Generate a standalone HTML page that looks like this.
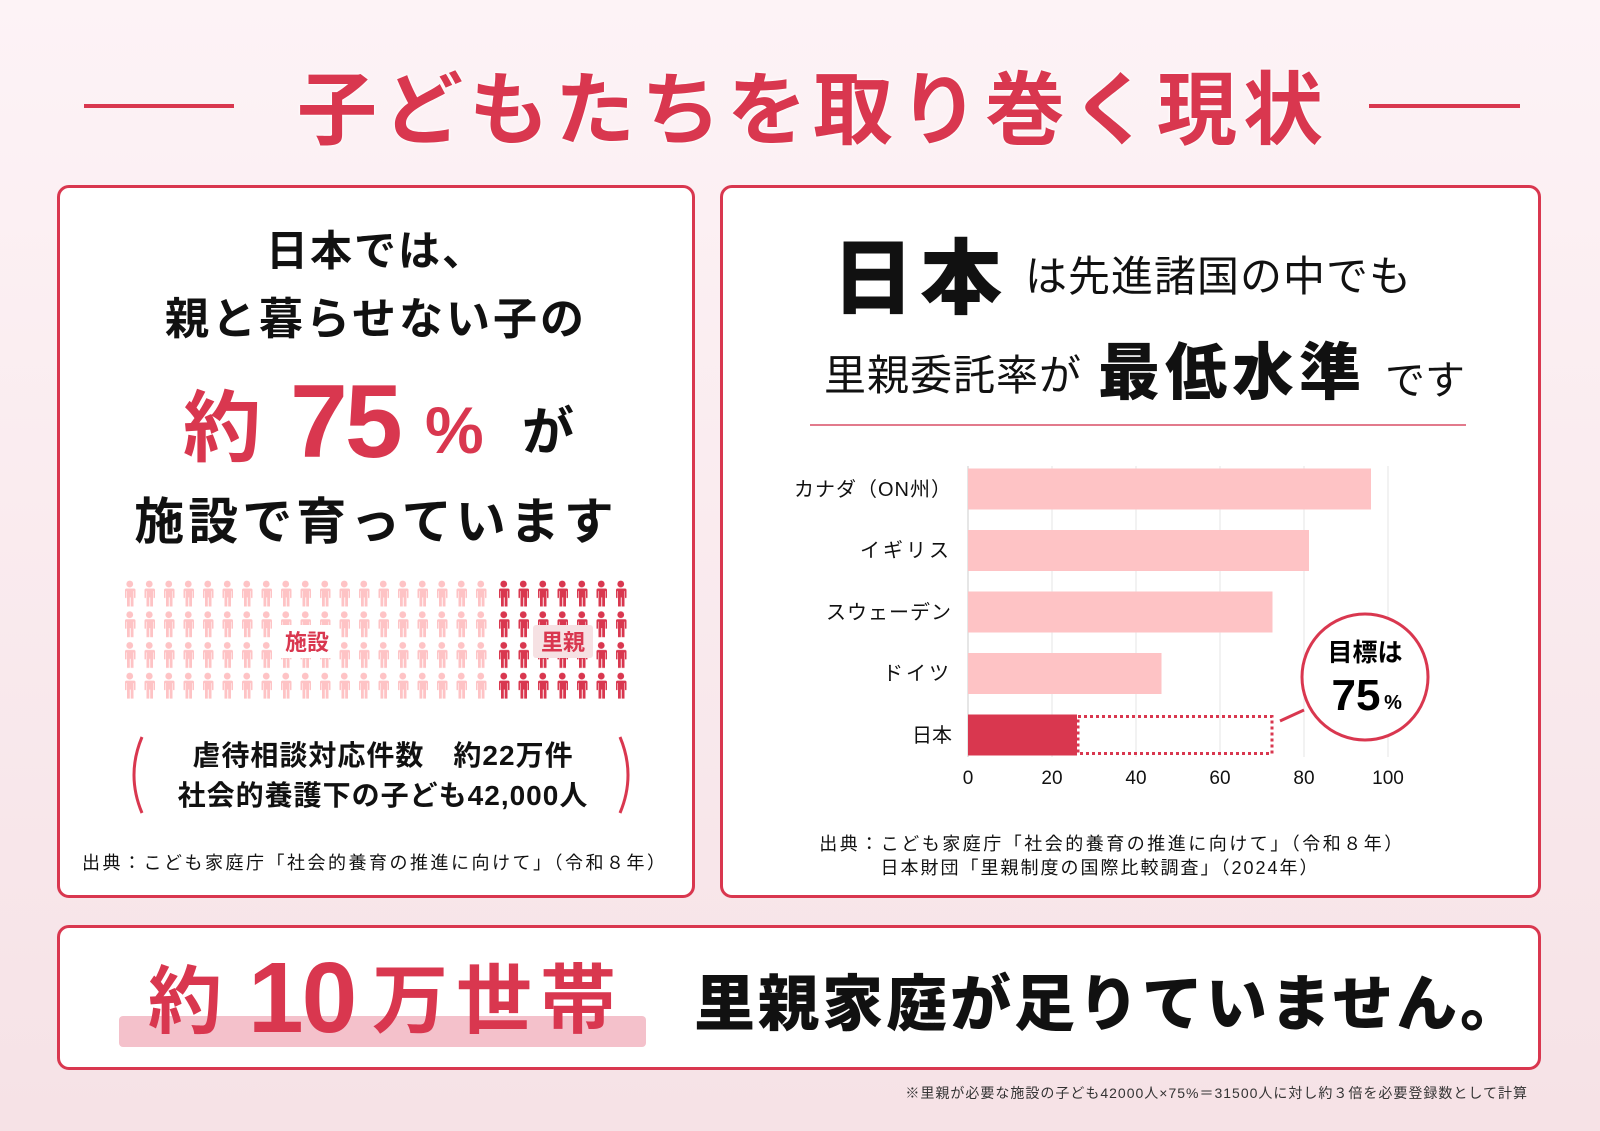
<!DOCTYPE html>
<html><head><meta charset="utf-8">
<style>
*{margin:0;padding:0;box-sizing:border-box}
body{width:1600px;height:1131px;overflow:hidden;position:relative;background:linear-gradient(#fdf3f6,#f6e2e6);font-family:"Liberation Sans","Noto Sans CJK JP",sans-serif;color:#111}
.a{position:absolute;white-space:nowrap}
.c{transform:translate(-50%,-50%)}
.r{color:#d9374f}
.panel{position:absolute;background:#fff;border:3px solid #d9374f;border-radius:12px}
.b{font-weight:700}
</style></head><body>
<div class="a" style="left:84px;top:104px;width:150px;height:4px;background:#d9374f"></div>
<div class="a" style="left:1369px;top:104px;width:151px;height:4px;background:#d9374f"></div>
<div class="a c r b" style="left:813px;top:104px;font-size:80px;letter-spacing:6px;text-shadow:0 0 3px #fff,0 0 3px #fff">子どもたちを取り巻く現状</div>

<div class="panel" style="left:57px;top:185px;width:638px;height:713px"></div>
<div class="panel" style="left:720px;top:185px;width:821px;height:713px"></div>
<div class="panel" style="left:57px;top:925px;width:1484px;height:145px"></div>

<!-- left panel -->
<div class="a c b" style="left:376px;top:248px;font-size:42px;letter-spacing:2px">日本では、</div>
<div class="a c b" style="left:376px;top:315px;font-size:44px;letter-spacing:3px">親と暮らせない子の</div>
<div class="a b r" style="left:183px;top:380px;font-size:78px;line-height:96px">約</div>
<div class="a b r" style="left:290px;top:362px;font-size:104px;line-height:120px;letter-spacing:-3px">75</div>
<div class="a b r" style="left:425px;top:385px;font-size:66px;line-height:90px">%</div>
<div class="a b" style="left:522px;top:398px;font-size:52px;line-height:70px">が</div>
<div class="a c b" style="left:376px;top:518px;font-size:50px;letter-spacing:4px">施設で育っています</div>

<svg class="a" style="left:0;top:0" width="1600" height="1131">
<defs>
<pattern id="pl" x="120" y="580" width="19.5" height="30.7" patternUnits="userSpaceOnUse">
<circle cx="9.75" cy="4" r="3.4" fill="#fec3c5"/>
<path d="M5.5 8.5h8.5a1.5 1.5 0 0 1 1.5 1.5v8h-1.5v-7h-0.5v15.5h-2.8v-9h-0.9v9h-2.8v-15.5h-0.5v7h-1.5v-8a1.5 1.5 0 0 1 1.5-1.5z" fill="#fec3c5"/>
</pattern>
<pattern id="pd" x="494" y="580" width="19.5" height="30.7" patternUnits="userSpaceOnUse">
<circle cx="9.75" cy="4" r="3.4" fill="#d9374f"/>
<path d="M5.5 8.5h8.5a1.5 1.5 0 0 1 1.5 1.5v8h-1.5v-7h-0.5v15.5h-2.8v-9h-0.9v9h-2.8v-15.5h-0.5v7h-1.5v-8a1.5 1.5 0 0 1 1.5-1.5z" fill="#d9374f"/>
</pattern>
</defs>
<rect x="120" y="580" width="370.5" height="122.8" fill="url(#pl)"/>
<rect x="494" y="580" width="136.5" height="122.8" fill="url(#pd)"/>
<rect x="278" y="625" width="58" height="33" fill="#fff"/>
<rect x="533" y="625" width="60" height="33" rx="3" fill="#f6e1e3"/>
<text x="307" y="650" font-size="22" font-weight="700" fill="#d9374f" text-anchor="middle" font-family="Liberation Sans,Noto Sans CJK JP,sans-serif">施設</text>
<text x="563" y="650" font-size="22" font-weight="700" fill="#d9374f" text-anchor="middle" font-family="Liberation Sans,Noto Sans CJK JP,sans-serif">里親</text>
<path d="M142 737 Q126 775 142 813" stroke="#d9374f" stroke-width="3" fill="none"/>
<path d="M620 737 Q636 775 620 813" stroke="#d9374f" stroke-width="3" fill="none"/>

<!-- chart -->
<g stroke="#e6e6e6" stroke-width="1">
<line x1="1052" y1="466" x2="1052" y2="757"/><line x1="1136" y1="466" x2="1136" y2="757"/>
<line x1="1220" y1="466" x2="1220" y2="757"/><line x1="1304" y1="466" x2="1304" y2="757"/>
<line x1="1388" y1="466" x2="1388" y2="757"/>
</g>
<line x1="968" y1="466" x2="968" y2="757" stroke="#ccc"/>
<rect x="968" y="468.5" width="403" height="41" fill="#fec3c5"/>
<rect x="968" y="530" width="341" height="41" fill="#fec3c5"/>
<rect x="968" y="591.5" width="304.5" height="41" fill="#fec3c5"/>
<rect x="968" y="653" width="193.5" height="41" fill="#fec3c5"/>
<rect x="968" y="714.5" width="109" height="41" fill="#d9374f"/>
<rect x="1078" y="716.5" width="194" height="37" fill="none" stroke="#d9374f" stroke-width="3" stroke-dasharray="3 3"/>
<line x1="1280" y1="721" x2="1304" y2="710" stroke="#d9374f" stroke-width="3"/>
<circle cx="1365" cy="677" r="63" fill="#fff" stroke="#d9374f" stroke-width="3"/>
<g font-family="Liberation Sans,Noto Sans CJK JP,sans-serif" font-size="20" fill="#111" text-anchor="end">
<text x="952" y="496" letter-spacing="1">カナダ（ON州）</text>
<text x="952" y="557" letter-spacing="3">イギリス</text>
<text x="952" y="619" letter-spacing="1">スウェーデン</text>
<text x="952" y="680" letter-spacing="3">ドイツ</text>
<text x="952" y="742">日本</text>
</g>
<g font-family="Liberation Sans,sans-serif" font-size="19" fill="#111" text-anchor="middle">
<text x="968" y="784">0</text><text x="1052" y="784">20</text><text x="1136" y="784">40</text>
<text x="1220" y="784">60</text><text x="1304" y="784">80</text><text x="1388" y="784">100</text>
</g>
<text x="1365" y="661" font-size="25" font-weight="700" text-anchor="middle" font-family="Liberation Sans,Noto Sans CJK JP,sans-serif">目標は</text>
<text x="1356" y="710" font-size="44" font-weight="700" text-anchor="middle" font-family="Liberation Sans,sans-serif">75</text>
<text x="1393" y="709" font-size="20" font-weight="700" text-anchor="middle" font-family="Liberation Sans,sans-serif">%</text>
</svg>

<div class="a c b" style="left:383px;top:754px;font-size:28px;letter-spacing:1px">虐待相談対応件数　約22万件</div>
<div class="a c b" style="left:383px;top:794px;font-size:28px;letter-spacing:1px">社会的養護下の子ども42,000人</div>
<div class="a" style="left:82px;top:849px;font-size:18px;letter-spacing:2.5px">出典：こども家庭庁「社会的養育の推進に向けて」（令和８年）</div>

<!-- right panel heading -->
<div class="a b" style="left:832px;top:230px;font-size:82px;line-height:100px;font-weight:900;letter-spacing:6px">日本</div>
<div class="a" style="left:1025px;top:252px;font-size:42px;line-height:50px;letter-spacing:1px">は先進諸国の中でも</div>
<div class="a" style="left:824px;top:351px;font-size:42px;line-height:50px;letter-spacing:1px">里親委託率が</div>
<div class="a b" style="left:1098px;top:336px;font-size:62px;line-height:76px;font-weight:900;letter-spacing:5px">最低水準</div>
<div class="a" style="left:1385px;top:356px;font-size:40px;line-height:50px">です</div>
<div class="a" style="left:810px;top:424px;width:656px;height:2px;background:#e27a8c"></div>
<div class="a c" style="left:1112px;top:843px;font-size:18px;letter-spacing:2.5px">出典：こども家庭庁「社会的養育の推進に向けて」（令和８年）</div>
<div class="a c" style="left:1100px;top:867px;font-size:18px;letter-spacing:2px">日本財団「里親制度の国際比較調査」（2024年）</div>

<!-- bottom -->
<div class="a" style="left:119px;top:1016px;width:527px;height:31px;background:#f4c1cb;border-radius:4px"></div>
<div class="a b r" style="left:148px;top:957px;font-size:74px;line-height:90px">約</div>
<div class="a b r" style="left:248px;top:938px;font-size:100px;line-height:120px;letter-spacing:-2px">10</div>
<div class="a b r" style="left:372px;top:957px;font-size:76px;line-height:90px;letter-spacing:8px">万世帯</div>
<div class="a b" style="left:694px;top:966px;font-size:61px;line-height:76px;font-weight:900;letter-spacing:3px">里親家庭が足りていません。</div>
<div class="a" style="right:72px;top:1083px;font-size:14px;letter-spacing:1px;color:#333">※里親が必要な施設の子ども42000人×75%＝31500人に対し約３倍を必要登録数として計算</div>
</body></html>
